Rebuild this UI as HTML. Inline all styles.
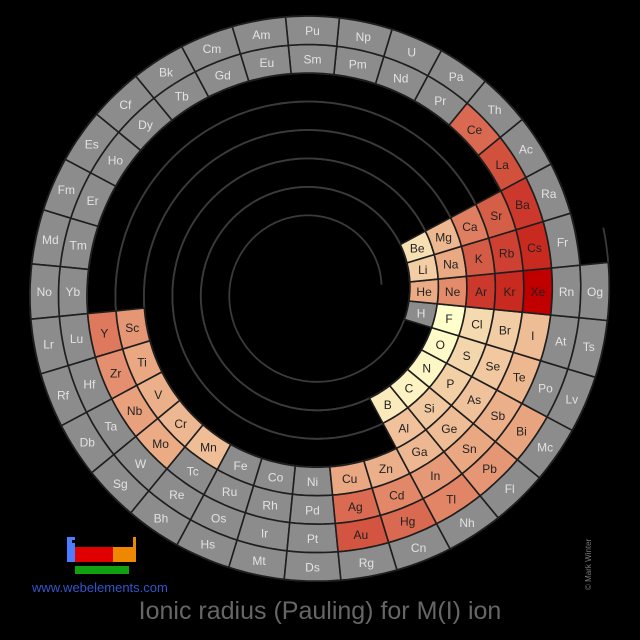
<!DOCTYPE html>
<html><head><meta charset="utf-8">
<style>
html,body{margin:0;padding:0;background:#000;}
#wrap{position:relative;width:640px;height:640px;overflow:hidden;background:#000;font-family:"Liberation Sans",sans-serif;}
#title{position:absolute;left:0;width:640px;top:597px;text-align:center;color:#666;font-size:25px;}
#url{position:absolute;left:32px;top:580px;color:#3355cc;font-size:13px;}
#copy{position:absolute;left:584px;top:590px;color:#777;font-size:8px;transform:rotate(-90deg);transform-origin:0 0;white-space:nowrap;}
</style></head><body>
<div id="wrap">
<svg id="svg" width="640" height="640"></svg>
<svg width="640" height="640" style="position:absolute;left:0;top:0">
<rect x="67" y="537" width="8" height="25" fill="#4a7dff"/>
<rect x="72" y="540" width="3" height="3" fill="#000"/>
<rect x="75" y="547" width="38" height="15" fill="#e00000"/>
<rect x="113" y="547" width="23" height="15" fill="#ee8800"/>
<rect x="133" y="537" width="3" height="10" fill="#ee8800"/>
<rect x="75" y="566" width="54" height="8" fill="#10a010"/>
</svg>
<div id="url">www.webelements.com</div>
<div id="title">Ionic radius (Pauling) for M(I) ion</div>
<div id="copy">© Mark Winter</div>
</div>
<script>
// symbols per period, 32 slots each ("" = no cell)
const period1 = ["","","","","","","","","","","","","","","","","","","","","","","","","","","","","","","H","He"];
const period2 = ["Li","Be","","","","","","","","","","","","","","","","","","","","","","","","","B","C","N","O","F","Ne"];
const period3 = ["Na","Mg","","","","","","","","","","","","","","","","","","","","","","","","","Al","Si","P","S","Cl","Ar"];
const period4 = ["K","Ca","","","","","","","","","","","","","","","Sc","Ti","V","Cr","Mn","Fe","Co","Ni","Cu","Zn","Ga","Ge","As","Se","Br","Kr"];
const period5 = ["Rb","Sr","","","","","","","","","","","","","","","Y","Zr","Nb","Mo","Tc","Ru","Rh","Pd","Ag","Cd","In","Sn","Sb","Te","I","Xe"];
const period6 = ["Cs","Ba","La","Ce","Pr","Nd","Pm","Sm","Eu","Gd","Tb","Dy","Ho","Er","Tm","Yb","Lu","Hf","Ta","W","Re","Os","Ir","Pt","Au","Hg","Tl","Pb","Bi","Po","At","Rn"];
const period7 = ["Fr","Ra","Ac","Th","Pa","U","Np","Pu","Am","Cm","Bk","Cf","Es","Fm","Md","No","Lr","Rf","Db","Sg","Bh","Hs","Mt","Ds","Rg","Cn","Nh","Fl","Mc","Lv","Ts","Og"];
// Pauling M(I) ionic radii, pm (missing = no data)
const radiusSymbols = ["He","Li","Be","B","C","N","O","F","Ne","Na","Mg","Al","Si","P","S","Cl","Ar","K","Ca","Sc","Ti","V","Cr","Mn","Cu","Zn","Ga","Ge","As","Se","Br","Kr","Rb","Sr","Y","Zr","Nb","Mo","Ag","Cd","In","Sn","Sb","Te","I","Xe","Cs","Ba","La","Ce","Au","Hg","Tl","Pb","Bi"];
const radiusValues = [93,60,44,35,29,25,22,19,112,95,82,72,65,59,53,49,154,133,118,106,96,88,81,75,96,88,81,76,71,66,62,169,148,132,120,109,100,93,126,114,104,96,89,82,77,190,169,153,139,127,137,127,115,106,98];

const periods=[period1,period2,period3,period4,period5,period6,period7];
const svg=document.getElementById('svg');
const NS='http://www.w3.org/2000/svg';
const cx=312.5, cy=291.5, r0=84, dr=0.89, half=14.24;
function rad(u){return r0+dr*u;}
function pt(u,off){const a=11.25*(u+1)*Math.PI/180;const r=rad(u)+off;return [cx+r*Math.cos(a),cy-r*Math.sin(a)];}
const stops=[[0,[255,255,204]],[0.12,[248,228,184]],[0.3,[240,195,156]],[0.45,[233,168,130]],[0.55,[227,137,106]],[0.67,[212,90,68]],[0.78,[204,58,44]],[0.88,[200,42,32]],[1,[192,0,0]]];
const vmin=Math.min(...radiusValues), vmax=Math.max(...radiusValues);
function colorFor(v){let t=(v-vmin)/(vmax-vmin);t=Math.max(0,Math.min(1,t));
 for(let i=1;i<stops.length;i++){if(t<=stops[i][0]){const a=stops[i-1],b=stops[i];const f=(t-a[0])/(b[0]-a[0]);
 const c=a[1].map((x,j)=>Math.round(x+(b[1][j]-x)*f));return 'rgb('+c.join(',')+')';}}return 'rgb(192,0,0)';}
// spiral guide
(function(){let d='';for(let u=-0.5;u<=223.5;u+=0.1){const p=pt(u,-half);d+=(d?'L':'M')+p[0].toFixed(1)+','+p[1].toFixed(1);}
 let d2='';for(let u=-0.5;u<=224.1;u+=0.1){const p=pt(u,half);d2+=(d2?'L':'M')+p[0].toFixed(1)+','+p[1].toFixed(1);}
 [d,d2].forEach((dd,i)=>{const el=document.createElementNS(NS,'path');el.setAttribute('d',dd);el.setAttribute('fill','none');el.setAttribute('stroke','#3a3a3a');el.setAttribute('stroke-width','1.8');
 
 
 svg.appendChild(el);});})();
periods.forEach((row,n)=>{row.forEach((sym,k)=>{if(!sym)return;
 const s=n*32+k;let d='';
 for(let i=0;i<=8;i++){const p=pt(s-0.5+i/8,half);d+=(i?'L':'M')+p[0].toFixed(1)+','+p[1].toFixed(1);}
 for(let i=8;i>=0;i--){const p=pt(s-0.5+i/8,-half);d+='L'+p[0].toFixed(1)+','+p[1].toFixed(1);}
 d+='Z';
 const idx=radiusSymbols.indexOf(sym);const has=idx>=0;
 const g=document.createElementNS(NS,'g');
 
 
 const path=document.createElementNS(NS,'path');path.setAttribute('d',d);
 path.setAttribute('fill',has?colorFor(radiusValues[idx]):'#8c8c8c');path.setAttribute('stroke','#1e1e1e');path.setAttribute('stroke-width','1.6');
 
 
 g.appendChild(path);
 const c=pt(s,0);const t=document.createElementNS(NS,'text');
 t.setAttribute('x',c[0].toFixed(1));t.setAttribute('y',(c[1]+4.5).toFixed(1));t.setAttribute('text-anchor','middle');
 t.setAttribute('font-family','Liberation Sans, sans-serif');t.setAttribute('font-size','12');t.setAttribute('fill',has?'#222':'#e2e2e2');
 t.textContent=sym;
 
 
 g.appendChild(t);svg.appendChild(g);});});
</script>
</body></html>
